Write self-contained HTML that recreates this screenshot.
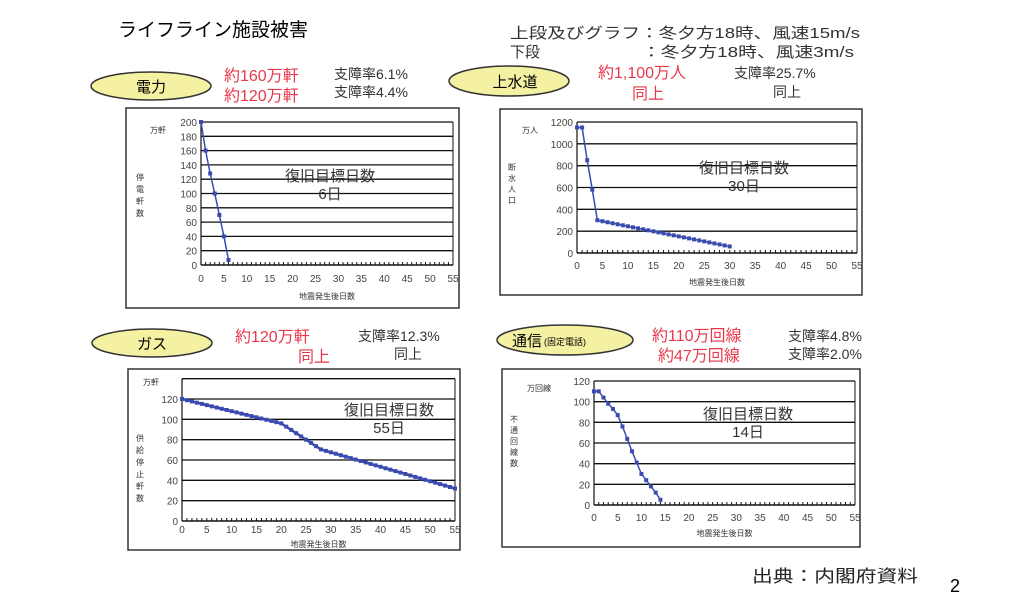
<!DOCTYPE html>
<html><head><meta charset="utf-8"><style>
html,body{margin:0;padding:0;background:#fff;width:1024px;height:598px;overflow:hidden}
svg{display:block;font-family:"Liberation Sans","Noto Sans CJK JP",sans-serif}
</style></head><body>
<svg id="s" width="1024" height="598" viewBox="0 0 1024 598" xmlns="http://www.w3.org/2000/svg">
<text x="118" y="36" font-size="19" fill="#000">ライフライン施設被害</text>
<text x="510" y="38" font-size="15" fill="#333" textLength="350" lengthAdjust="spacingAndGlyphs">上段及びグラフ：冬夕方18時、風速15m/s</text>
<text x="510" y="57" font-size="15" fill="#333">下段</text>
<text x="642" y="57" font-size="15" fill="#333" textLength="212" lengthAdjust="spacingAndGlyphs">：冬夕方18時、風速3m/s</text>
<text x="752" y="582" font-size="17" fill="#222" textLength="166" lengthAdjust="spacingAndGlyphs">出典：内閣府資料</text>
<text x="950" y="592" font-size="18" fill="#000">2</text>

<ellipse cx="151" cy="86" rx="60" ry="14" fill="#f4f1a2" stroke="#333" stroke-width="1.5"/>
<text x="151" y="92" font-size="15" text-anchor="middle">電力</text>
<text x="224" y="81" font-size="16" fill="#e8384a">約160万軒</text>
<text x="224" y="101" font-size="16" fill="#e8384a">約120万軒</text>
<text x="334" y="79" font-size="14" fill="#333">支障率6.1%</text>
<text x="334" y="97" font-size="14" fill="#333">支障率4.4%</text>

<ellipse cx="509" cy="81" rx="60" ry="15" fill="#f4f1a2" stroke="#333" stroke-width="1.5"/>
<text x="515" y="87" font-size="15" text-anchor="middle">上水道</text>
<text x="598" y="78" font-size="16" fill="#e8384a">約1,100万人</text>
<text x="632" y="99" font-size="16" fill="#e8384a">同上</text>
<text x="734" y="78" font-size="14" fill="#333">支障率25.7%</text>
<text x="773" y="97" font-size="14" fill="#333">同上</text>

<ellipse cx="152" cy="343" rx="60" ry="14" fill="#f4f1a2" stroke="#333" stroke-width="1.5"/>
<text x="152" y="349" font-size="15" text-anchor="middle">ガス</text>
<text x="235" y="342" font-size="16" fill="#e8384a">約120万軒</text>
<text x="298" y="362" font-size="16" fill="#e8384a">同上</text>
<text x="358" y="341" font-size="14" fill="#333">支障率12.3%</text>
<text x="394" y="359" font-size="14" fill="#333">同上</text>

<ellipse cx="565" cy="340" rx="68" ry="15" fill="#f4f1a2" stroke="#333" stroke-width="1.5"/>
<text x="512" y="346" font-size="15">通信</text>
<text x="544" y="345" font-size="9">(固定電話)</text>
<text x="652" y="341" font-size="16" fill="#e8384a">約110万回線</text>
<text x="658" y="361" font-size="16" fill="#e8384a">約47万回線</text>
<text x="788" y="341" font-size="14" fill="#333">支障率4.8%</text>
<text x="788" y="359" font-size="14" fill="#333">支障率2.0%</text>
</svg>
<script>
var s=document.getElementById('s'),NS='http://www.w3.org/2000/svg';
function el(t,a,txt){var e=document.createElementNS(NS,t);for(var k in a)e.setAttribute(k,a[k]);if(txt!=null)e.textContent=txt;s.appendChild(e);return e;}
function chart(c){
 el('rect',{x:c.bx,y:c.by,width:c.bw,height:c.bh,fill:'#fff',stroke:'#333','stroke-width':1.5});
 var X=function(d){return c.x0+(c.x1-c.x0)*d/55},Y=function(v){return c.y0+(c.yt-c.y0)*v/c.ymax};
 for(var v=c.step;v<=c.gmax;v+=c.step){el('line',{x1:c.x0,x2:c.x1,y1:Y(v),y2:Y(v),stroke:'#111','stroke-width':1.3});}
 el('line',{x1:c.x0,x2:c.x0,y1:c.y0,y2:Y(c.gmax),stroke:'#111','stroke-width':1.2});
 el('line',{x1:c.x1,x2:c.x1,y1:c.y0,y2:Y(c.gmax),stroke:'#111','stroke-width':1});
 el('line',{x1:c.x0,x2:c.x1,y1:c.y0,y2:c.y0,stroke:'#111','stroke-width':1.5});
 for(var d=0;d<=55;d++)el('line',{x1:X(d),x2:X(d),y1:c.y0,y2:c.y0-3,stroke:'#111','stroke-width':1});
 for(var v=0;v<=c.lmax;v+=c.step)el('text',{x:c.x0-4,y:Y(v)+4,'font-size':10,'text-anchor':'end',fill:'#444'},v);
 for(var d=0;d<=55;d+=5)el('text',{x:X(d),y:c.y0+c.xl,'font-size':10,'text-anchor':'middle',fill:'#444'},d);
 el('text',{x:(c.x0+c.x1)/2,y:c.tY,'font-size':8,'text-anchor':'middle',fill:'#333'},'地震発生後日数');
 el('text',{x:c.ux,y:c.uy,'font-size':8,fill:'#333'},c.unit);
 for(var i=0;i<c.vl.length;i++)el('text',{x:c.vx,y:c.vy+i*c.vs,'font-size':8,fill:'#333','text-anchor':'middle'},c.vl[i]);
 var p=c.data.map(function(q){return X(q[0])+','+Y(q[1])}).join(' ');
 el('polyline',{points:p,fill:'none',stroke:'#3a4bb0','stroke-width':c.lw||1.5});
 c.data.forEach(function(q){el('rect',{x:X(q[0])-2,y:Y(q[1])-2,width:4,height:4,fill:'#3a4bb0'})});
 el('text',{x:c.tx,y:c.ty,'font-size':15,'text-anchor':'middle',fill:'#333'},'復旧目標日数');
 el('text',{x:c.tx,y:c.ty+18,'font-size':15,'text-anchor':'middle',fill:'#333'},c.days);
}
chart({bx:126,by:108,bw:333,bh:200,x0:201,x1:453,y0:265,yt:122,ymax:200,step:20,gmax:200,lmax:200,xl:17,tY:299,
 unit:'万軒',ux:150,uy:133,vl:['停','電','軒','数'],vx:140,vy:180,vs:12,tx:330,ty:181,days:'6日',
 data:[[0,200],[1,160],[2,128],[3,100],[4,70],[5,40],[6,7]]});
var w=[[0,1150],[1,1150],[2,850],[3,580],[4,300]];
for(var d=5;d<=30;d++)w.push([d,300-(d-4)*240/26]);
chart({bx:500,by:109,bw:362,bh:186,x0:577,x1:857,y0:253,yt:122,ymax:1200,step:200,gmax:1200,lmax:1200,xl:16,tY:285,
 unit:'万人',ux:522,uy:133,vl:['断','水','人','口'],vx:512,vy:170,vs:11,tx:744,ty:173,days:'30日',data:w});
var g=[];for(var d=0;d<=55;d++){var v;if(d<=20)v=120-d*1.2;else if(d<=28)v=96-(d-20)*3.2;else v=70.4-(d-28)*(70.4-32)/27;g.push([d,v]);}
chart({bx:128,by:369,bw:332,bh:181,x0:182,x1:455,y0:521,yt:399,ymax:120,step:20,gmax:140,lmax:120,xl:12,tY:547,lw:2.5,
 unit:'万軒',ux:143,uy:385,vl:['供','給','停','止','軒','数'],vx:140,vy:441,vs:12,tx:389,ty:415,days:'55日',data:g});
chart({bx:502,by:369,bw:358,bh:178,x0:594,x1:855,y0:505,yt:381,ymax:120,step:20,gmax:120,lmax:120,xl:16,tY:536,
 unit:'万回線',ux:527,uy:391,vl:['不','通','回','線','数'],vx:514,vy:422,vs:11,tx:748,ty:419,days:'14日',
 data:[[0,110],[1,110],[2,104],[3,98],[4,93],[5,87],[6,76],[7,64],[8,52],[9,41],[10,30],[11,24],[12,18],[13,12],[14,5]]});
</script>
</body></html>
